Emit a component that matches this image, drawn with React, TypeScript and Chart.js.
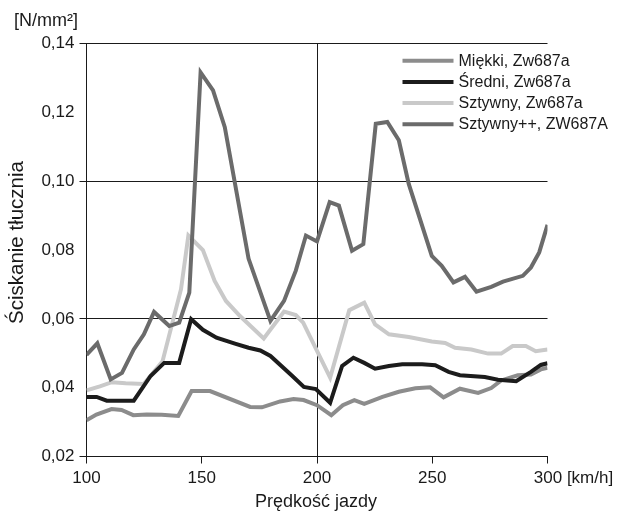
import React, { useEffect, useRef } from "react";
import { Chart, registerables } from "chart.js";

Chart.register(...registerables);

// ---- data ----
const xTicks = [100, 150, 200, 250, 300];
const yTicks = [0.02, 0.04, 0.06, 0.08, 0.1, 0.12, 0.14];

const seriesNames = ["Miękki, Zw687a", "Średni, Zw687a", "Sztywny, Zw687a", "Sztywny++, ZW687A"];

const miekkiSpeed = [100, 104.3, 110.9, 115.2, 120.3, 126.1, 132.6, 139.8, 145.6, 153.6, 171, 176.1, 184, 189.8, 194.2, 200, 206.2, 211.2, 216.2, 220.5, 228.4, 235.5, 242.7, 249.1, 254.9, 262, 269.9, 275.6, 279.9, 287.1, 292.8, 297.1, 300];
const miekkiVal = [0.0305, 0.0322, 0.0338, 0.0335, 0.032, 0.0322, 0.0321, 0.0318, 0.039, 0.039, 0.0344, 0.0343, 0.036, 0.0367, 0.0364, 0.0349, 0.032, 0.0349, 0.0364, 0.0353, 0.0373, 0.0388, 0.0398, 0.0401, 0.0372, 0.0397, 0.0385, 0.0399, 0.0421, 0.0436, 0.0438, 0.0453, 0.0458];

const sredniSpeed = [100, 104.4, 108.8, 120.5, 127.8, 133.7, 140.2, 145.4, 150.5, 156.4, 164.4, 170.3, 175.4, 179.8, 189.3, 194.3, 199.5, 205.7, 210.9, 215.8, 220.5, 225.2, 231.2, 237, 245.6, 251.3, 257.1, 262, 272.8, 278.5, 286.4, 292.8, 297.1, 300];
const sredniVal = [0.0373, 0.0373, 0.0362, 0.0362, 0.0434, 0.0472, 0.0472, 0.0599, 0.0568, 0.0545, 0.0528, 0.0516, 0.0508, 0.0492, 0.0434, 0.0402, 0.0396, 0.0356, 0.0463, 0.0487, 0.0472, 0.0455, 0.0463, 0.0468, 0.0468, 0.0465, 0.0446, 0.0436, 0.0431, 0.0423, 0.0419, 0.0446, 0.0466, 0.0471];

const sztywnySpeed = [100, 105.8, 111, 117, 124.9, 133, 141, 144.2, 150.5, 155.6, 160.5, 166.6, 176.9, 185.7, 190.8, 194, 205.7, 214, 220.5, 225.2, 231.2, 239.8, 249.8, 255.6, 259.9, 267, 274.2, 279.9, 284.9, 290.6, 294.9, 300];
const sztywnyVal = [0.0392, 0.0404, 0.0416, 0.0413, 0.0411, 0.0477, 0.0686, 0.0842, 0.08, 0.071, 0.0652, 0.0608, 0.0543, 0.0621, 0.0611, 0.0589, 0.0429, 0.0625, 0.0647, 0.0584, 0.0555, 0.0547, 0.0534, 0.053, 0.0516, 0.0511, 0.0499, 0.0499, 0.0521, 0.0521, 0.0506, 0.0511];

const sztywnyPPSpeed = [100, 104.7, 110.5, 115.4, 120.5, 124.9, 129.3, 135.9, 140.2, 144.6, 149.5, 154.9, 160, 170.3, 179.8, 185.7, 190.8, 195.2, 200, 205.5, 209.5, 215.2, 220.1, 225.5, 230.5, 235.5, 239.8, 249.8, 254.1, 259.2, 264.2, 269.2, 275.6, 280.7, 289.3, 292.8, 296.4, 300];
const sztywnyPPVal = [0.0495, 0.0529, 0.0424, 0.0443, 0.0511, 0.0555, 0.062, 0.0579, 0.0589, 0.0676, 0.1316, 0.1264, 0.1157, 0.0775, 0.0594, 0.0652, 0.074, 0.0842, 0.0825, 0.0939, 0.0929, 0.0798, 0.0817, 0.1167, 0.1172, 0.1119, 0.0992, 0.0783, 0.0754, 0.0706, 0.0722, 0.0679, 0.0693, 0.0708, 0.0725, 0.0749, 0.0793, 0.0873];

const colors = ["#8c8c8c", "#1c1c1c", "#c9c9c9", "#6b6b6b"];
const orders = [2, 0, 3, 1];

const zip = (xs: number[], ys: number[]) => xs.map((x, i) => ({ x, y: ys[i] }));

const FONT = "'Liberation Sans', Arial, Helvetica, sans-serif";
const INK = "#1a1a1a";

const extrasPlugin = {
  id: "extras",
  afterDraw(chart: any) {
    const ctx = chart.ctx;
    const area = chart.chartArea;
    ctx.save();
    ctx.fillStyle = INK;

    // unit label
    ctx.font = `18px ${FONT}`;
    ctx.textAlign = "right";
    ctx.textBaseline = "middle";
    ctx.fillText("[N/mm²]", 78, 21.5);

    // x title
    ctx.textAlign = "center";
    ctx.fillText("Prędkość jazdy", 316, 502);

    // y title
    ctx.save();
    ctx.translate(17.5, 242.5);
    ctx.rotate(-Math.PI / 2);
    ctx.font = `20.5px ${FONT}`;
    ctx.textAlign = "center";
    ctx.textBaseline = "middle";
    ctx.fillText("Ściskanie tłucznia", 0, 0);
    ctx.restore();

    // legend
    const lx0 = 402.5, lx1 = 453.5, tx = 458.5, ly0 = 60.7, dy = 21.2;
    ctx.font = `16px ${FONT}`;
    ctx.textAlign = "left";
    ctx.textBaseline = "middle";
    seriesNames.forEach((name, i) => {
      const y = ly0 + i * dy;
      ctx.strokeStyle = colors[i];
      ctx.lineWidth = 4;
      ctx.beginPath();
      ctx.moveTo(lx0, y);
      ctx.lineTo(lx1, y);
      ctx.stroke();
      ctx.fillStyle = INK;
      ctx.fillText(name, tx, y + 0.5);
    });
    ctx.restore();
    void area;
  },
};

export default function App() {
  const ref = useRef<HTMLCanvasElement | null>(null);

  useEffect(() => {
    document.body.style.margin = "0";
    const canvas = ref.current!;
    const datasets = [
      zip(miekkiSpeed, miekkiVal),
      zip(sredniSpeed, sredniVal),
      zip(sztywnySpeed, sztywnyVal),
      zip(sztywnyPPSpeed, sztywnyPPVal),
    ].map((data, i) => ({
      label: seriesNames[i],
      data,
      borderColor: colors[i],
      backgroundColor: colors[i],
      borderWidth: 4,
      pointRadius: 0,
      tension: 0,
      fill: false,
      order: orders[i],
      borderJoinStyle: "miter" as const,
    }));

    const majorY = (v: number) => Math.round(v * 100) % 4 === 2;

    const chart = new Chart(canvas, {
      type: "line",
      data: { datasets },
      plugins: [extrasPlugin],
      options: {
        animation: false,
        responsive: false,
        devicePixelRatio: 1,
        layout: { padding: { left: 0, right: 72.5, top: 43.5, bottom: 0 } },
        plugins: { legend: { display: false }, tooltip: { enabled: false } },
        scales: {
          x: {
            type: "linear",
            min: xTicks[0],
            max: xTicks[xTicks.length - 1],
            afterBuildTicks: (scale: any) => {
              scale.ticks = xTicks.map((v) => ({ value: v }));
            },
            afterFit: (scale: any) => {
              scale.height = 54.5;
            },
            border: { display: true, color: INK, width: 1 },
            grid: {
              color: (c: any) => (c.tick && c.tick.value === 200 ? INK : "rgba(0,0,0,0)"),
              tickColor: INK,
              tickLength: 7,
              lineWidth: 1,
              drawTicks: true,
            },
            ticks: {
              color: INK,
              font: { family: FONT, size: 17 },
              padding: 5,
              maxRotation: 0,
              autoSkip: false,
              callback: (v: any) =>
                Number(v) === 300 ? " ".repeat(11) + "300 [km/h]" : String(v),
            },
          },
          y: {
            type: "linear",
            min: yTicks[0],
            max: yTicks[yTicks.length - 1],
            afterBuildTicks: (scale: any) => {
              scale.ticks = yTicks.map((v) => ({ value: v }));
            },
            afterFit: (scale: any) => {
              scale.width = 86.5;
            },
            border: { display: true, color: INK, width: 1 },
            grid: {
              color: (c: any) => (c.tick && majorY(c.tick.value) ? INK : "rgba(0,0,0,0)"),
              tickColor: (c: any) => (c.tick && majorY(c.tick.value) ? INK : "rgba(0,0,0,0)"),
              tickLength: 7,
              lineWidth: 1,
              drawTicks: true,
            },
            ticks: {
              color: INK,
              font: { family: FONT, size: 17 },
              padding: 5,
              autoSkip: false,
              callback: (v: any) => Number(v).toFixed(2).replace(".", ","),
            },
          },
        },
      },
    });
    return () => chart.destroy();
  }, []);

  return (
    <div style={{ width: 620, height: 511, background: "#fff" }}>
      <canvas ref={ref} width={620} height={511} style={{ display: "block" }} />
    </div>
  );
}
